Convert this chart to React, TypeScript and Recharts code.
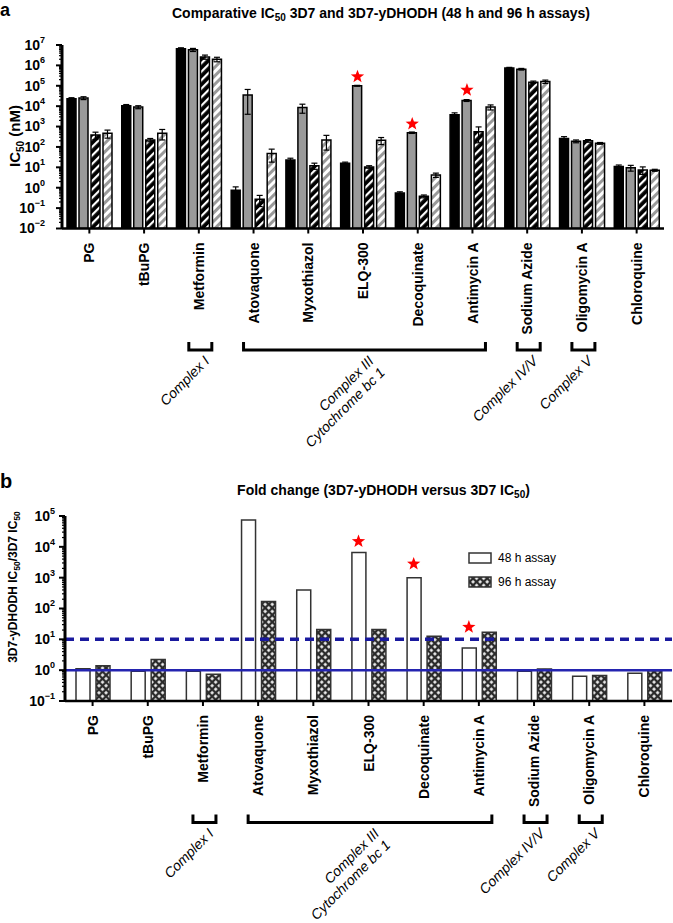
import React from 'react';
import { BarChart, Bar, XAxis, YAxis, ErrorBar, ReferenceLine, ReferenceDot, Legend } from 'recharts';

const drugs = ['PG', 'tBuPG', 'Metformin', 'Atovaquone', 'Myxothiazol', 'ELQ-300', 'Decoquinate', 'Antimycin A', 'Sodium Azide', 'Oligomycin A', 'Chloroquine'];

// panel a, IC50 in nM
const wt48 = [2.3e4, 1.05e4, 6.5e6, 0.75, 23, 16, 0.55, 3800, 7.5e5, 260, 11];
const yd48 = [2.5e4, 9e3, 5.8e6, 3.5e4, 8.5e3, 1.0e5, 500, 1.9e4, 6.5e5, 190, 9.5];
const wt96 = [380, 220, 2.6e6, 0.27, 12, 10.5, 0.38, 560, 1.5e5, 200, 7.5];
const yd96 = [470, 470, 2.0e6, 48, 220, 210, 4.2, 9000, 1.6e5, 150, 7.2];
const wt48Err = [3000, 1500, 8e5, 0.35, 5, 2, 0.08, 900, 5e4, 60, 2];
const yd48Err = [4000, 1500, 1e6, 3.1e4, 4000, 5000, 40, 2000, 6e4, 30, 3];
const wt96Err = [150, 40, 6e5, 0.15, 4, 1.5, 0.06, 400, 2e4, 30, 3];
const yd96Err = [200, 250, 5e5, 30, 150, 80, 1, 2500, 3e4, 15, 0.8];

// panel b, fold change yDHODH / 3D7
const fold48 = [1.12, 0.92, 0.92, 7.4e4, 400, 6.6e3, 1000, 5.2, 0.92, 0.63, 0.8];
const fold96 = [1.38, 2.2, 0.74, 170, 21, 21, 12.5, 17, 1.1, 0.67, 0.95];

const starsA = [{ drug: 'ELQ-300', at: 2.8e5 }, { drug: 'Decoquinate', at: 1350 }, { drug: 'Antimycin A', at: 6.2e4 }];
const starsB = [{ drug: 'ELQ-300', at: 1.5e4 }, { drug: 'Decoquinate', at: 2800 }, { drug: 'Antimycin A', at: 25 }];

const complexes = [
  { from: 'Metformin', to: 'Metformin', text: ['Complex I'] },
  { from: 'Atovaquone', to: 'Antimycin A', text: ['Complex III', 'Cytochrome bc 1'] },
  { from: 'Sodium Azide', to: 'Sodium Azide', text: ['Complex IV/V'] },
  { from: 'Oligomycin A', to: 'Oligomycin A', text: ['Complex V'] },
];

const decadesA = [1e-2, 1e-1, 1, 10, 100, 1e3, 1e4, 1e5, 1e6, 1e7];
const decadesB = [1e-1, 1, 10, 100, 1e3, 1e4, 1e5];
const minorSteps = [2, 3, 4, 5, 6, 7, 8, 9];

const withMinor = (decades) => decades.flatMap((d, i) => (i < decades.length - 1 ? [d, ...minorSteps.map((m) => d * m)] : [d]));

const rowsA = drugs.map((drug, i) => ({
  drug, wt48: wt48[i], yd48: yd48[i], wt96: wt96[i], yd96: yd96[i],
  eWt48: wt48Err[i], eYd48: yd48Err[i], eWt96: wt96Err[i], eYd96: yd96Err[i],
}));
const rowsB = drugs.map((drug, i) => ({ drug, f48: fold48[i], f96: fold96[i] }));

const FONT = '"Liberation Sans", Arial, Helvetica, sans-serif';

const CategoryTick = (props) => {
  const { x, y, payload, step } = props;
  const name = payload.value;
  const idx = drugs.indexOf(name);
  const grp = complexes.find((c) => c.from === name);
  let bracket = null;
  if (grp) {
    const span = (drugs.indexOf(grp.to) - idx) * step;
    const x0 = x - 10;
    const x1 = x + span + 13;
    const top = y + 113.5;
    const bottom = top + 8;
    const cx = (x0 + x1) / 2;
    bracket = (
      <g>
        <path d={`M${x0},${top}V${bottom}H${x1}V${top}`} fill="none" stroke="#000" strokeWidth={3} />
        <text transform={`translate(${cx + 10},${bottom + 12}) rotate(-45)`} textAnchor="end" fontSize={14} fontStyle="italic" fill="#000">
          {grp.text.map((t, k) => (
            <tspan key={k} x={0} dy={k === 0 ? 0 : '1.15em'}>{t}</tspan>
          ))}
        </text>
      </g>
    );
  }
  return (
    <g>
      <line x1={x} x2={x} y1={y} y2={y + 5} stroke="#000" strokeWidth={2} />
      <text transform={`translate(${x},${y + 14}) rotate(-90)`} textAnchor="end" dy="0.36em" fontSize={14} fontWeight="bold" fill="#000">
        {name}
      </text>
      {bracket}
    </g>
  );
};

const LogTick = (props) => {
  const { x, y, payload, gap } = props;
  const v = payload.value;
  const lg = Math.log10(v);
  const e = Math.round(lg);
  const major = Math.abs(lg - e) < 1e-6;
  return (
    <g>
      <line x1={x} x2={x - (major ? 6 : 3)} y1={y} y2={y} stroke="#000" strokeWidth={major ? 2 : 1.2} />
      {major && (
        <text x={x - gap} y={y} dy="0.35em" textAnchor="end" fontSize={14} fontWeight="bold" fill="#000">
          10<tspan fontSize={9} dy={-7}>{e < 0 ? '\u2212' + -e : e}</tspan>
        </text>
      )}
    </g>
  );
};

const Star = (props) => {
  const { cx, cy, dx } = props;
  const pts = [];
  for (let k = 0; k < 10; k++) {
    const r = k % 2 === 0 ? 7 : 2.9;
    const a = -Math.PI / 2 + (k * Math.PI) / 5;
    pts.push(`${cx + dx + r * Math.cos(a)},${cy + r * Math.sin(a)}`);
  }
  return <polygon points={pts.join(' ')} fill="#ff0000" />;
};

const YTitleA = () => (
  <text transform="translate(19.5,136) rotate(-90)" textAnchor="middle" fontSize={15} fontWeight="bold" fill="#000">
    IC<tspan fontSize={10} dy={4}>50</tspan><tspan dy={-4}> (nM)</tspan>
  </text>
);

const YTitleB = () => (
  <text transform="translate(17,117) rotate(-90)" textAnchor="middle" fontSize={12} fontWeight="bold" fill="#000">
    3D7-yDHODH IC<tspan fontSize={8.5} dy={3}>50</tspan><tspan dy={-3}>/3D7 IC</tspan><tspan fontSize={8.5} dy={3}>50</tspan>
  </text>
);

const legendSwatch = ['#fff', 'url(#xhatch)'];

const FoldLegend = (props) => {
  const { payload } = props;
  return (
    <svg width={110} height={42} style={{ overflow: 'visible', fontFamily: FONT }}>
      {(payload || []).map((item, i) => (
        <g key={i}>
          <rect x={3} y={3 + i * 24} width={22} height={10} fill={legendSwatch[i]} stroke="#333" strokeWidth={1.5} />
          <text x={32} y={8 + i * 24} dy="0.35em" fontSize={12} fill="#000">{item.value}</text>
        </g>
      ))}
    </svg>
  );
};

export default function App() {
  return (
    <div style={{ position: 'absolute', left: 0, top: 0, width: 673, height: 923, background: '#fff', fontFamily: FONT }}>
      <svg width={673} height={923} style={{ position: 'absolute', left: 0, top: 0 }}>
        <text x={0} y={16} fontSize={18} fontWeight="bold">a</text>
        <text x={0} y={488} fontSize={20} fontWeight="bold">b</text>
        <text x={381} y={18} textAnchor="middle" fontSize={14} fontWeight="bold">
          Comparative IC<tspan fontSize={10} dy={3}>50</tspan><tspan dy={-3}> 3D7 and 3D7-yDHODH (48 h and 96 h assays)</tspan>
        </text>
        <text x={383.5} y={495} textAnchor="middle" fontSize={14} fontWeight="bold">
          Fold change (3D7-yDHODH versus 3D7 IC<tspan fontSize={10} dy={3}>50</tspan><tspan dy={-3}>)</tspan>
        </text>
      </svg>

      <div style={{ position: 'absolute', left: 0, top: 0 }}>
        <BarChart width={673} height={470} data={rowsA} margin={{ top: 45, right: 9, bottom: 0, left: 0 }} barSize={9} barGap={3}>
          <defs>
            <pattern id="hatchDark" patternUnits="userSpaceOnUse" width="6" height="6" patternTransform="rotate(45)">
              <rect width="6" height="6" fill="#000" />
              <rect x="0" y="0" width="2.2" height="6" fill="#fff" />
            </pattern>
            <pattern id="hatchLight" patternUnits="userSpaceOnUse" width="6" height="6" patternTransform="rotate(45)">
              <rect width="6" height="6" fill="#fff" />
              <rect x="0" y="0" width="3" height="6" fill="#9a9a9a" />
            </pattern>
          </defs>
          <XAxis dataKey="drug" type="category" interval={0} tickLine={false} tickSize={0} tickMargin={0} height={241.5}
            axisLine={{ stroke: '#000', strokeWidth: 2.5 }} tick={<CategoryTick step={602 / 11} />} />
          <YAxis type="number" scale="log" domain={[0.01, 1e7]} allowDataOverflow ticks={withMinor(decadesA)} interval={0} width={62}
            tickLine={false} tickSize={0} tickMargin={0} axisLine={{ stroke: '#000', strokeWidth: 3 }} tick={<LogTick gap={17} />} label={<YTitleA />} />
          <Bar dataKey="wt48" fill="#000" stroke="#000" strokeWidth={1.5} isAnimationActive={false}>
            <ErrorBar dataKey="eWt48" width={3} strokeWidth={1.2} stroke="#000" direction="y" />
          </Bar>
          <Bar dataKey="yd48" fill="#9a9a9a" stroke="#000" strokeWidth={1.5} isAnimationActive={false}>
            <ErrorBar dataKey="eYd48" width={3} strokeWidth={1.2} stroke="#000" direction="y" />
          </Bar>
          <Bar dataKey="wt96" fill="url(#hatchDark)" stroke="#000" strokeWidth={1.5} isAnimationActive={false}>
            <ErrorBar dataKey="eWt96" width={3} strokeWidth={1.2} stroke="#000" direction="y" />
          </Bar>
          <Bar dataKey="yd96" fill="url(#hatchLight)" stroke="#000" strokeWidth={1.5} isAnimationActive={false}>
            <ErrorBar dataKey="eYd96" width={3} strokeWidth={1.2} stroke="#000" direction="y" />
          </Bar>
          {starsA.map((s) => (
            <ReferenceDot key={s.drug} x={s.drug} y={s.at} r={7} shape={(p) => <Star {...p} dx={-5.5} />} />
          ))}
        </BarChart>
      </div>

      <div style={{ position: 'absolute', left: 0, top: 470 }}>
        <BarChart width={673} height={453} data={rowsB} margin={{ top: 46, right: 1, bottom: 0, left: 0 }} barSize={14} barGap={6}>
          <defs>
            <pattern id="xhatch" patternUnits="userSpaceOnUse" width="5" height="5" patternTransform="rotate(45)">
              <rect width="5" height="5" fill="#2b2b2b" />
              <rect x="1.2" y="1.2" width="2.6" height="2.6" fill="#fff" />
            </pattern>
          </defs>
          <XAxis dataKey="drug" type="category" interval={0} tickLine={false} tickSize={0} tickMargin={0} height={222}
            axisLine={{ stroke: '#000', strokeWidth: 2.5 }} tick={<CategoryTick step={607 / 11} />} />
          <YAxis type="number" scale="log" domain={[0.1, 1e5]} allowDataOverflow ticks={withMinor(decadesB)} interval={0} width={65}
            tickLine={false} tickSize={0} tickMargin={0} axisLine={{ stroke: '#000', strokeWidth: 3 }} tick={<LogTick gap={10} />} label={<YTitleB />} />
          <Legend content={<FoldLegend />} layout="vertical" align="center" verticalAlign="middle" wrapperStyle={{ left: 466, top: 80, width: 110 }} />
          <Bar dataKey="f48" name="48 h assay" fill="#fff" stroke="#333" strokeWidth={1.5} isAnimationActive={false} />
          <Bar dataKey="f96" name="96 h assay" fill="url(#xhatch)" stroke="#333" strokeWidth={1.5} isAnimationActive={false} />
          <ReferenceLine y={10} stroke="#1a1a9e" strokeWidth={3.5} strokeDasharray="9 6" />
          <ReferenceLine y={1} stroke="#2424b0" strokeWidth={2.5} />
          {starsB.map((s) => (
            <ReferenceDot key={s.drug} x={s.drug} y={s.at} r={7} shape={(p) => <Star {...p} dx={-10} />} />
          ))}
        </BarChart>
      </div>
    </div>
  );
}
